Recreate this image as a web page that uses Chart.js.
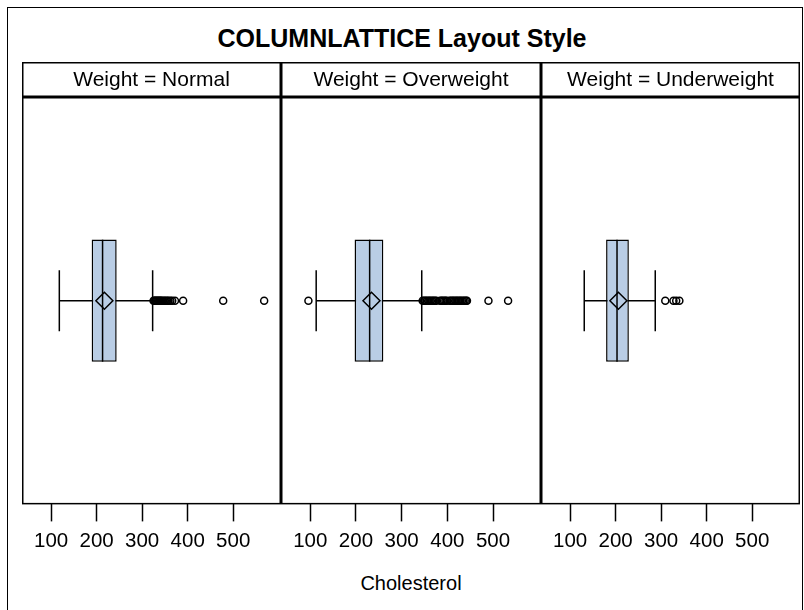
<!DOCTYPE html>
<html>
<head>
<meta charset="utf-8">
<script src="https://cdn.jsdelivr.net/npm/chart.js@4.4.0/dist/chart.umd.min.js"></script>
<style>
  html, body { margin:0; padding:0; background:#fff; }
  body { width:804px; height:610px; overflow:hidden; position:relative; font-family:'Liberation Sans', Arial, sans-serif; color:#000; }
  #frame { position:absolute; left:7px; top:7px; width:796px; height:700px; border:1px solid #000; box-sizing:border-box; }
  #title { position:absolute; left:0; width:804px; top:24px; line-height:28px; text-align:center; font-weight:bold; font-size:25px; }
  #xlabel { position:absolute; left:22px; width:778px; top:571px; line-height:24px; text-align:center; font-size:20px; }
  canvas { position:absolute; top:62px; }
</style>
</head>
<body>
<div id="frame"></div>
<div id="title">COLUMNLATTICE Layout Style</div>
<canvas id="c0" width="259" height="500" style="left:22px"></canvas>
<canvas id="c1" width="260" height="500" style="left:281px"></canvas>
<canvas id="c2" width="259" height="500" style="left:541px"></canvas>
<div id="xlabel">Cholesterol</div>
<script>
// ---- data ----
const CATEGORIES   = ['Normal', 'Overweight', 'Underweight'];
const Q1           = [189, 197, 179];
const MEDIAN       = [213, 230, 203];
const Q3           = [244, 260, 229];
const MEAN         = [217, 234, 206];
const WHISKER_LOW  = [118, 113, 131];
const WHISKER_HIGH = [323, 344, 287];
const OUTLIERS_NORMAL = [325, 327, 329, 331, 333, 335, 337, 339, 341, 343, 346, 349, 352, 355, 358, 362, 366, 372, 390, 478, 568];
const OUTLIERS_OVERWEIGHT = [96, 346, 349, 352, 355, 358, 361, 364, 367, 370, 373, 376, 384, 387, 390, 393, 396, 399, 405, 408, 411, 414, 417, 420, 423, 426, 429, 432, 435, 438, 441, 443, 490, 533];
const OUTLIERS_UNDERWEIGHT = [309, 327, 333, 340];
const X_TICKS = [100, 200, 300, 400, 500];
const X_MIN = 36, X_MAX = 605;
const X_TITLE = 'Cholesterol';

const OUTLIERS = [OUTLIERS_NORMAL, OUTLIERS_OVERWEIGHT, OUTLIERS_UNDERWEIGHT];
const FONT = "'Liberation Sans', Arial, sans-serif";
document.getElementById('xlabel').textContent = X_TITLE;

const framePlugin = {
  id: 'frame',
  afterDraw(chart, args, opts) {
    const { ctx, chartArea: a, width } = chart;
    ctx.save();
    ctx.strokeStyle = '#000';
    ctx.lineWidth = 1.5;
    ctx.strokeRect(0.75, 0.75, width - 1.5, a.top - 1.5);
    ctx.strokeRect(a.left + 0.75, a.top + 0.75, a.right - a.left - 1.5, a.bottom - a.top - 1.5);
    ctx.fillStyle = '#000';
    ctx.font = '21px ' + FONT;
    ctx.textAlign = 'center';
    ctx.textBaseline = 'middle';
    ctx.fillText(opts.text, width / 2, a.top / 2 + 1);
    ctx.restore();
  }
};

CATEGORIES.forEach((cat, i) => {
  const pt = v => ({ x: v, y: cat });
  const pointDs = (data, style, radius, extra) => Object.assign({
    type: 'line', indexAxis: 'y', showLine: false, data,
    pointStyle: style, pointRadius: radius, pointBorderWidth: 1.5,
    pointBorderColor: '#000', pointBackgroundColor: 'rgba(0,0,0,0)',
    borderColor: '#000', backgroundColor: 'rgba(0,0,0,0)'
  }, extra || {});
  new Chart(document.getElementById('c' + i), {
    type: 'bar',
    data: {
      labels: [cat],
      datasets: [
        { type: 'line', indexAxis: 'y', data: [pt(WHISKER_LOW[i]), pt(WHISKER_HIGH[i])],
          borderColor: '#000', borderWidth: 1.5, pointRadius: 0, order: 6 },
        { type: 'bar', indexAxis: 'y', data: [[Q1[i], Q3[i]]], backgroundColor: '#b9cde5',
          borderColor: '#000', borderWidth: 1.5, borderSkipped: false,
          barPercentage: 0.3, categoryPercentage: 1, order: 5 },
        pointDs([pt(MEDIAN[i])], 'line', 61, { pointRotation: 90, order: 4 }),
        pointDs([pt(WHISKER_LOW[i]), pt(WHISKER_HIGH[i])], 'line', 30.5, { pointRotation: 90, order: 3 }),
        pointDs([pt(MEAN[i])], 'rectRot', 8.5, { order: 2 }),
        pointDs(OUTLIERS[i].map(pt), 'circle', 3.5, { order: 1 })
      ]
    },
    options: {
      indexAxis: 'y',
      responsive: false,
      animation: false,
      events: [],
      layout: { autoPadding: false, padding: { top: 35, left: 0, right: 0, bottom: 0 } },
      plugins: {
        legend: { display: false },
        tooltip: { enabled: false },
        frame: { text: 'Weight = ' + cat }
      },
      scales: {
        y: { type: 'category', display: false },
        x: {
          type: 'linear', min: X_MIN, max: X_MAX,
          afterBuildTicks: s => { s.ticks = X_TICKS.map(v => ({ value: v })); },
          grid: { drawOnChartArea: false, drawTicks: true, tickLength: 17, tickColor: '#000', tickWidth: 1.5 },
          border: { display: false },
          ticks: { color: '#000', font: { family: FONT, size: 20.5 }, padding: 8, maxRotation: 0, autoSkip: false }
        }
      }
    },
    plugins: [framePlugin]
  });
});
</script>
</body>
</html>
